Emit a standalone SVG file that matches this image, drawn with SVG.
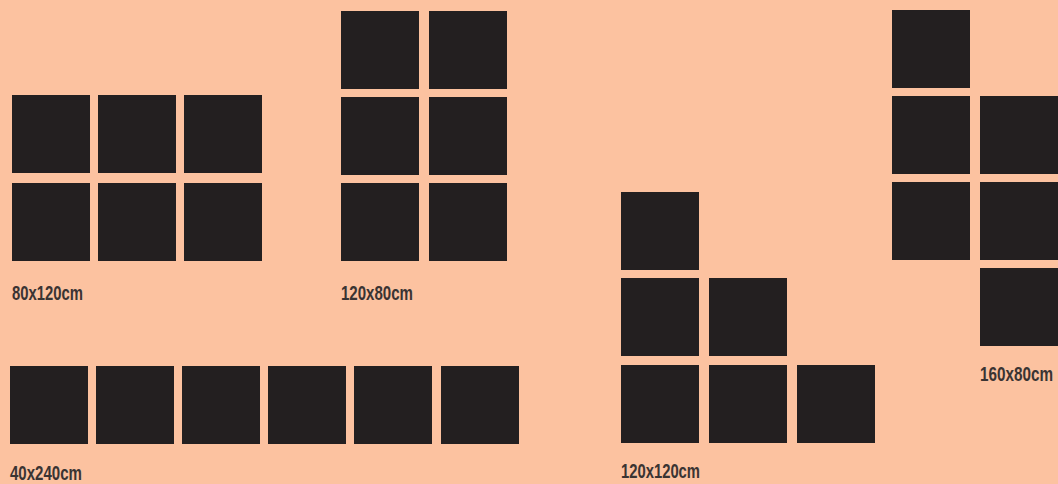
<svg xmlns="http://www.w3.org/2000/svg" width="1058" height="484" viewBox="0 0 1058 484">
<style>
.sq{fill:#231f20}
.lb{font-family:"Liberation Sans",Arial,sans-serif;font-size:21px;font-weight:600;fill:#3a3433}
</style>
<rect x="0" y="0" width="1058" height="484" fill="#fcc2a0"/>
<g id="layout-80x120">
<rect class="sq" x="12" y="95" width="78" height="78"/>
<rect class="sq" x="98" y="95" width="78" height="78"/>
<rect class="sq" x="184" y="95" width="78" height="78"/>
<rect class="sq" x="12" y="183" width="78" height="78"/>
<rect class="sq" x="98" y="183" width="78" height="78"/>
<rect class="sq" x="184" y="183" width="78" height="78"/>
<text class="lb" x="12" y="300" textLength="71" lengthAdjust="spacingAndGlyphs">80x120cm</text>
</g>
<g id="layout-120x80">
<rect class="sq" x="341" y="11" width="78" height="78"/>
<rect class="sq" x="429" y="11" width="78" height="78"/>
<rect class="sq" x="341" y="97" width="78" height="78"/>
<rect class="sq" x="429" y="97" width="78" height="78"/>
<rect class="sq" x="341" y="183" width="78" height="78"/>
<rect class="sq" x="429" y="183" width="78" height="78"/>
<text class="lb" x="341" y="300" textLength="72" lengthAdjust="spacingAndGlyphs">120x80cm</text>
</g>
<g id="layout-40x240">
<rect class="sq" x="10" y="366" width="78" height="78"/>
<rect class="sq" x="96" y="366" width="78" height="78"/>
<rect class="sq" x="182" y="366" width="78" height="78"/>
<rect class="sq" x="268" y="366" width="78" height="78"/>
<rect class="sq" x="354" y="366" width="78" height="78"/>
<rect class="sq" x="441" y="366" width="78" height="78"/>
<text class="lb" x="10" y="480" textLength="72" lengthAdjust="spacingAndGlyphs">40x240cm</text>
</g>
<g id="layout-120x120">
<rect class="sq" x="621" y="192" width="78" height="78"/>
<rect class="sq" x="621" y="278" width="78" height="78"/>
<rect class="sq" x="709" y="278" width="78" height="78"/>
<rect class="sq" x="621" y="365" width="78" height="78"/>
<rect class="sq" x="709" y="365" width="78" height="78"/>
<rect class="sq" x="797" y="365" width="78" height="78"/>
<text class="lb" x="621" y="478" textLength="79" lengthAdjust="spacingAndGlyphs">120x120cm</text>
</g>
<g id="layout-160x80">
<rect class="sq" x="892" y="10" width="78" height="78"/>
<rect class="sq" x="892" y="96" width="78" height="78"/>
<rect class="sq" x="980" y="96" width="78" height="78"/>
<rect class="sq" x="892" y="182" width="78" height="78"/>
<rect class="sq" x="980" y="182" width="78" height="78"/>
<rect class="sq" x="980" y="268" width="78" height="78"/>
<text class="lb" x="980" y="381" textLength="73" lengthAdjust="spacingAndGlyphs">160x80cm</text>
</g>
<g id="connectors"></g>
</svg>
